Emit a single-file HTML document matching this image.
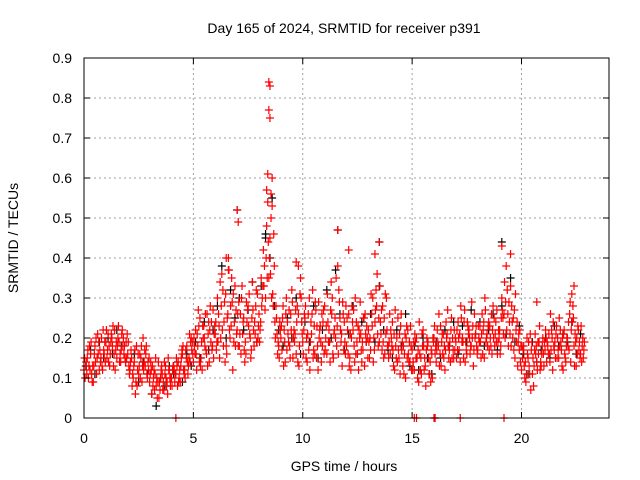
<!DOCTYPE html>
<html><head><meta charset="utf-8"><style>
body{margin:0;background:#fff}
svg{display:block;font-family:"Liberation Sans",sans-serif}
</style></head><body>
<svg id="chart" width="640" height="480">
<text x="344" y="33" text-anchor="middle" font-size="14">Day 165 of 2024, SRMTID for receiver p391</text>
<text x="344" y="471" text-anchor="middle" font-size="14">GPS time / hours</text>
<text x="18" y="238" text-anchor="middle" font-size="14" transform="rotate(-90 18 238)">SRMTID / TECUs</text>
<g id="grid"></g><g id="marks"></g><g id="axes"></g>
</svg>
<script>
const xTicks=[0,5,10,15,20];
const yTicks=[0,0.1,0.2,0.3,0.4,0.5,0.6,0.7,0.8,0.9];
const yTickLabels=["0","0.1","0.2","0.3","0.4","0.5","0.6","0.7","0.8","0.9"];
const redStart=0, redStep=0.1;
const red1=[.12,.14,.10,.16,.13,.18,.15,.12,.20,.17,
.19,.21,.16,.18,.22,.15,.19,.17,.20,.14,
.16,.12,.08,.14,.18,.11,.15,.20,.13,.10,
.09,.06,.12,.08,.14,.10,.07,.11,.09,.12,
.10,.13,.11,.14,.09,.16,.12,.18,.15,.20,
.14,.22,.18,.25,.12,.20,.16,.24,.19,.27,
.21,.30,.15,.36,.24,.18,.40,.28,.12,.33,
.22,.18,.30,.25,.16,.28,.20,.34,.24,.19,
.26,.35,.42,.30,.54,.45,.60,.38,.25,.18,
.20,.28,.14,.24,.18,.32,.22,.16,.26,.35,
.19,.25,.14,.30,.21,.17,.27,.12,.23,.18,
.28,.16,.22,.34,.15,.20,.38,.25,.13,.24,
.18,.26,.12,.22,.30,.16,.20,.14,.25,.19,
.22,.17,.30,.24,.36,.19,.27,.15,.21,.18,
.16,.24,.12,.20,.15,.26,.18,.10,.22,.14,
.17,.12,.20,.09,.15,.22,.13,.18,.11,.16,
.20,.14,.18,.23,.16,.12,.21,.17,.25,.15,
.19,.24,.14,.20,.27,.16,.22,.18,.13,.21,
.17,.23,.26,.15,.20,.24,.18,.28,.21,.16,
.22,.30,.26,.38,.18,.33,.20,.15,.24,.17,
.12,.18,.09,.15,.21,.11,.17,.14,.19,.13,
.16,.22,.18,.14,.20,.17,.23,.15,.19,.12,
.15,.20,.26,.31,.18,.13,.22,.16,.20];
const red2Start=0.05;
const red2=[.10,.15,.18,.11,.13,.20,.16,.14,.12,.19,
.15,.18,.21,.13,.17,.20,.16,.22,.18,.15,
.13,.17,.10,.06,.12,.16,.09,.14,.18,.12,
.14,.08,.11,.05,.09,.13,.07,.10,.15,.08,
.12,.09,.13,.10,.15,.12,.17,.11,.14,.19,
.18,.12,.23,.15,.20,.26,.13,.22,.17,.21,
.17,.26,.20,.32,.14,.25,.22,.35,.19,.27,
.18,.26,.21,.14,.24,.31,.17,.22,.28,.20,
.22,.30,.38,.48,.35,.50,.28,.20,.16,.24,
.17,.22,.30,.19,.26,.15,.21,.28,.18,.24,
.22,.15,.26,.19,.32,.16,.23,.20,.14,.27,
.20,.24,.14,.30,.22,.18,.32,.19,.26,.16,
.22,.15,.28,.18,.24,.12,.21,.17,.26,.20,
.15,.26,.20,.32,.18,.24,.28,.16,.22,.19,
.20,.13,.18,.25,.11,.19,.16,.23,.14,.18,
.14,.19,.10,.16,.21,.12,.17,.15,.09,.20,
.16,.22,.13,.19,.15,.24,.18,.14,.20,.17,
.22,.17,.25,.15,.19,.23,.16,.20,.26,.18,
.20,.15,.22,.27,.18,.23,.16,.25,.19,.22,
.18,.25,.20,.32,.24,.28,.17,.22,.19,.14,
.15,.10,.20,.13,.17,.08,.16,.19,.12,.18,
.19,.14,.21,.17,.24,.15,.20,.18,.13,.22,
.18,.24,.14,.28,.21,.16,.19,.14,.17];
const red3Start=0.025;
const red3=[.15,.11,.13,.19,.09,.14,.21,.17,.13,.16,
.22,.14,.19,.23,.12,.18,.14,.21,.16,.19,
.19,.14,.11,.17,.08,.13,.18,.12,.16,.14,
.11,.13,.07,.10,.05,.12,.09,.13,.06,.10,
.08,.12,.15,.09,.13,.18,.10,.14,.21,.17,
.20,.16,.27,.13,.23,.18,.26,.14,.24,.15,
.24,.19,.34,.22,.29,.16,.37,.23,.31,.18,
.26,.21,.33,.17,.29,.23,.15,.27,.21,.31,
.19,.28,.33,.40,.44,.36,.31,.24,.21,.15,
.23,.13,.26,.21,.15,.29,.19,.24,.13,.30,
.16,.28,.21,.12,.26,.23,.15,.29,.19,.24,
.17,.31,.19,.26,.21,.35,.16,.22,.29,.19,
.25,.13,.20,.27,.16,.23,.29,.19,.13,.23,
.19,.31,.14,.27,.21,.33,.17,.25,.30,.15,
.22,.17,.27,.14,.21,.17,.11,.20,.16,.23,
.12,.21,.15,.24,.11,.18,.08,.19,.14,.10,
.23,.17,.26,.13,.21,.17,.27,.19,.15,.22,
.15,.20,.28,.19,.14,.24,.20,.29,.17,.23,
.23,.19,.16,.30,.21,.17,.26,.20,.24,.19,
.16,.27,.34,.22,.29,.18,.25,.31,.13,.22,
.18,.13,.11,.19,.07,.15,.21,.12,.23,.16,
.13,.20,.16,.26,.12,.19,.15,.25,.17,.21,
.14,.18,.29,.24,.13,.20,.17,.23,.15];
const red4Start=0.075;
const red4=[.13,.17,.12,.09,.16,.11,.19,.15,.22,.14,
.17,.13,.20,.16,.19,.23,.14,.18,.15,.21,
.11,.15,.13,.09,.16,.10,.13,.17,.11,.15,
.12,.10,.15,.09,.07,.11,.14,.08,.12,.10,
.13,.11,.08,.12,.17,.11,.15,.13,.19,.16,
.16,.21,.14,.19,.23,.17,.21,.28,.18,.23,
.19,.23,.28,.18,.31,.26,.20,.29,.24,.21,
.29,.16,.24,.19,.27,.21,.25,.18,.32,.23,
.24,.33,.27,.35,.40,.30,.46,.28,.19,.22,
.25,.19,.17,.27,.22,.20,.27,.14,.31,.21,
.26,.20,.17,.24,.15,.29,.18,.22,.26,.16,
.23,.19,.27,.16,.25,.23,.29,.21,.17,.28,
.16,.21,.24,.14,.19,.22,.17,.25,.21,.15,
.20,.23,.17,.28,.25,.21,.19,.31,.18,.26,
.18,.21,.15,.17,.23,.13,.21,.15,.19,.12,
.19,.15,.17,.12,.18,.15,.20,.11,.17,.19,
.18,.19,.16,.21,.18,.20,.15,.22,.17,.20,
.17,.21,.19,.24,.17,.21,.18,.23,.20,.16,
.19,.21,.24,.19,.23,.20,.22,.18,.27,.20,
.25,.21,.29,.26,.21,.24,.27,.19,.21,.18,
.17,.14,.16,.11,.19,.13,.18,.16,.14,.20,
.17,.19,.16,.22,.18,.21,.17,.22,.20,.16,
.20,.17,.22,.25,.19,.23,.15,.18,.19];
const blackStart=0.1, blackStep=0.2;
const black=[.13,.17,.11,.19,.15,.20,.16,.22,.18,.14,
.12,.16,.09,.14,.11,.06,.03,.10,.08,.13,
.11,.14,.09,.16,.13,.19,.15,.24,.17,.22,
.28,.38,.20,.32,.25,.30,.22,.27,.34,.19,
.33,.45,.40,.28,.22,.18,.25,.20,.30,.16,
.24,.19,.28,.15,.22,.32,.20,.37,.26,.17,
.21,.28,.16,.24,.19,.26,.19,.33,.22,.17,
.15,.22,.18,.26,.13,.18,.12,.20,.15,.11,
.19,.15,.22,.18,.24,.16,.23,.19,.27,.21,
.24,.18,.22,.26,.17,.28,.21,.35,.19,.23,
.16,.11,.19,.14,.17,.20,.15,.23,.18,.21,
.19,.24,.16,.21];
const spikeTimes=[8.45,8.5,8.45,8.5,8.4,7.0,7.05,11.6,13.5,19.1,19.5,8.55,6.5,9.7,22.4,20.7,8.35,8.6,6.6,12.1,9.8,13.3];
const spikeValues=[.84,.83,.77,.75,.61,.52,.49,.47,.44,.43,.41,.56,.40,.39,.33,.29,.57,.53,.37,.42,.38,.41];
const blackSpikeTimes=[7.0,11.6,13.5,19.1,8.3,8.6];
const blackSpikeValues=[.52,.47,.44,.44,.46,.55];
const zeroTimes=[4.2,15.1,15.2,16.0,16.05,17.2,19.2];

const X0=84,X1=609,Y0=418,Y1=58,XMAX=24,YMAX=0.9;
const sx=t=>X0+t/XMAX*(X1-X0);
const sy=v=>Y0-v/YMAX*(Y0-Y1);
const NS="http://www.w3.org/2000/svg";
function mk(tag,attrs,parent){const e=document.createElementNS(NS,tag);for(const k in attrs)e.setAttribute(k,attrs[k]);parent.appendChild(e);return e;}
const grid=document.getElementById('grid'),marks=document.getElementById('marks'),axes=document.getElementById('axes');
xTicks.forEach(t=>{
  const l=mk('line',{x1:sx(t),x2:sx(t),y1:Y1,y2:Y0,stroke:'#a0a0a0','stroke-dasharray':'2,3'},grid);
  
  
  mk('line',{x1:sx(t),x2:sx(t),y1:Y0,y2:Y0-6,stroke:'#000'},axes);
  mk('line',{x1:sx(t),x2:sx(t),y1:Y1,y2:Y1+6,stroke:'#000'},axes);
  const tx=mk('text',{x:sx(t),y:Y0+25,'text-anchor':'middle','font-size':14},axes);
  tx.textContent=t;
  
  
});
yTicks.forEach((v,i)=>{
  const l=mk('line',{x1:X0,x2:X1,y1:sy(v),y2:sy(v),stroke:'#a0a0a0','stroke-dasharray':'2,3'},grid);
  
  
  mk('line',{x1:X0,x2:X0+6,y1:sy(v),y2:sy(v),stroke:'#000'},axes);
  mk('line',{x1:X1,x2:X1-6,y1:sy(v),y2:sy(v),stroke:'#000'},axes);
  const tx=mk('text',{x:X0-12,y:sy(v)+5,'text-anchor':'end','font-size':14},axes);
  tx.textContent=yTickLabels[i];
  
  
});
const box=mk('rect',{x:X0,y:Y1,width:X1-X0,height:Y0-Y1,fill:'none',stroke:'#000'},axes);


function plus(t,v,color,name){
  const x=sx(t),y=sy(v);
  const p=mk('path',{d:`M${x-4},${y}H${x+4}M${x},${y-4}V${y+4}`,stroke:color,'stroke-width':1.2,fill:'none'},marks);
  
  
}
black.forEach((v,i)=>plus(blackStart+i*blackStep,v,'#000','black-point'));
blackSpikeTimes.forEach((t,i)=>plus(t,blackSpikeValues[i],'#000','black-point'));
red1.forEach((v,i)=>plus(redStart+i*redStep,v,'#f00','red-point'));
red2.forEach((v,i)=>plus(red2Start+i*redStep,v,'#f00','red-point'));
red3.forEach((v,i)=>plus(red3Start+i*redStep,v,'#f00','red-point'));
red4.forEach((v,i)=>plus(red4Start+i*redStep,v,'#f00','red-point'));
spikeTimes.forEach((t,i)=>plus(t,spikeValues[i],'#f00','red-spike-point'));
zeroTimes.forEach(t=>plus(t,0,'#f00','red-zero-point'));
</script>
</body></html>
